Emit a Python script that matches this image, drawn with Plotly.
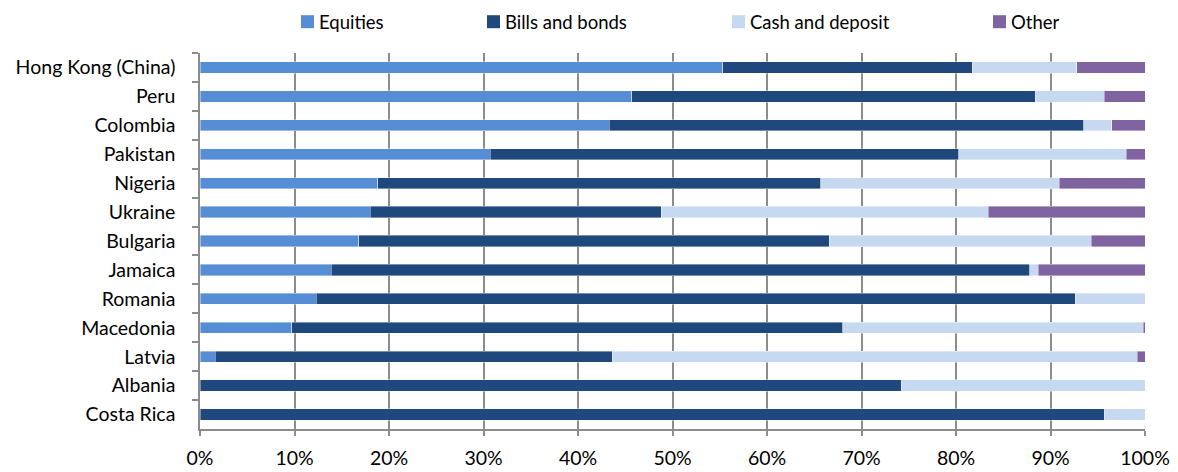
import plotly.graph_objects as go

countries = ["Hong Kong (China)", "Peru", "Colombia", "Pakistan", "Nigeria", "Ukraine",
             "Bulgaria", "Jamaica", "Romania", "Macedonia", "Latvia", "Albania", "Costa Rica"]

equities = [55.3, 45.7, 43.3, 30.7, 18.8, 18.0, 16.8, 13.9, 12.3, 9.7, 1.6, 0.0, 0.0]
bills_bonds = [26.4, 42.7, 50.2, 49.6, 46.9, 30.8, 49.8, 73.9, 80.3, 58.3, 42.0, 74.2, 95.7]
cash_deposit = [11.1, 7.3, 3.0, 17.7, 25.2, 34.6, 27.7, 0.9, 7.4, 31.8, 55.6, 25.8, 4.3]
other = [7.2, 4.3, 3.5, 2.0, 9.1, 16.6, 5.7, 11.3, 0.0, 0.2, 0.8, 0.0, 0.0]

x_ticks = list(range(0, 101, 10))
x_tick_labels = [f"{v}%" for v in x_ticks]

series_names = ["Equities", "Bills and bonds", "Cash and deposit", "Other"]
series_values = [equities, bills_bonds, cash_deposit, other]
series_colors = ["#558ED5", "#1F497D", "#C6D9F1", "#8064A2"]

FONT = "Lato"
W, H = 1178, 472
M_L, M_R, M_T, M_B = 200, 33, 53, 43
plot_w = W - M_L - M_R
plot_h = H - M_T - M_B

fig = go.Figure()
for name, vals, color in zip(series_names, series_values, series_colors):
    fig.add_trace(go.Bar(
        y=countries, x=vals, name=name, orientation="h",
        marker=dict(color=color, line=dict(color="rgba(255,255,255,0.5)", width=0.8)),
        width=0.39, showlegend=False,
    ))

# Legend row across the top: a colour key square followed by its label,
# entries separated by an even gap after each label.
key_px = [301, 487, 732, 993]   # left edge of each key square, in pixels
key_size = 13
key_center_y = 21.7
for name, color, px in zip(series_names, series_colors, key_px):
    x0 = (px - M_L) / plot_w
    x1 = (px + key_size - M_L) / plot_w
    yc = (H - M_B - key_center_y) / plot_h
    half = key_size / 2 / plot_h
    fig.add_shape(type="rect", xref="paper", yref="paper",
                  x0=x0, x1=x1, y0=yc - half, y1=yc + half,
                  fillcolor=color, line=dict(width=0))
    fig.add_annotation(text=name, xref="paper", yref="paper",
                       x=(px + key_size + 3 - M_L) / plot_w, y=yc,
                       xanchor="left", yanchor="middle", showarrow=False,
                       font=dict(family=FONT, size=18.5, color="#000000"))

fig.update_layout(
    barmode="stack",
    width=W, height=H,
    margin=dict(l=M_L, r=M_R, t=M_T, b=M_B, autoexpand=False),
    paper_bgcolor="white", plot_bgcolor="white",
    font=dict(family=FONT, size=19, color="#000000"),
    showlegend=False,
    xaxis=dict(
        range=[0, 100], tickmode="array", tickvals=x_ticks, ticktext=x_tick_labels,
        showgrid=True, gridcolor="#8c8c8c", gridwidth=1.5,
        showline=True, linecolor="#8c8c8c", linewidth=1.5,
        ticks="outside", ticklen=5, tickcolor="#8c8c8c", tickwidth=1.5,
        ticklabelstandoff=6, zeroline=False, automargin=False,
        tickfont=dict(family=FONT, size=19.5),
    ),
    yaxis=dict(
        autorange="reversed", type="category",
        showline=True, linecolor="#8c8c8c", linewidth=1.5,
        ticks="outside", ticklen=6, tickcolor="#8c8c8c", tickwidth=1.5,
        tickson="boundaries", showgrid=False, ticklabelstandoff=19,
        automargin=False,
        tickfont=dict(family=FONT, size=19.5),
    ),
)

fig.write_html("out.html")
